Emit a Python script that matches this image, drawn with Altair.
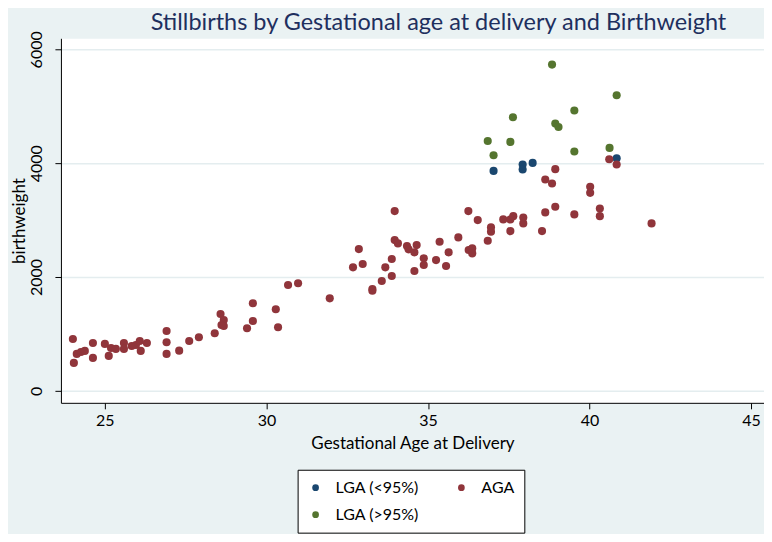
import altair as alt
import pandas as pd

groups = ["LGA (<95%)", "LGA (>95%)", "AGA"]
colors = ["#1A476F", "#55752F", "#90353B"]

ga_lga_lt = [37.03, 37.93, 37.93, 38.24, 40.84]
bw_lga_lt = [3865, 3977, 3889, 4005, 4088]

ga_aga = [24.01, 24.04, 24.13, 24.26, 24.38, 24.63, 24.63, 25.0, 25.12, 25.19,
          25.34, 25.59, 25.59, 25.83, 25.96, 26.08, 26.11, 26.30, 26.91, 26.91,
          26.91, 27.30, 27.61, 27.91, 28.40, 28.58, 28.68, 28.61, 28.68, 29.40,
          29.58, 29.58, 30.29, 30.36, 30.67, 30.98, 31.96, 32.68, 32.86, 32.98,
          33.28, 33.28, 33.57, 33.68, 33.88, 33.88, 33.97, 33.97, 34.07, 34.35,
          34.40, 34.58, 34.65, 34.58, 34.87, 34.87, 35.25, 35.36, 35.56, 35.64,
          35.94, 36.25, 36.54, 36.26, 36.37, 36.37, 36.85, 36.95, 36.95, 37.33,
          37.55, 37.64, 37.55, 37.95, 37.95, 38.53, 38.63, 38.94, 39.53, 40.32,
          40.32, 38.63, 38.84, 38.94, 40.02, 40.02, 40.61, 40.84, 41.92]
bw_aga = [912, 491, 649, 684, 702, 842, 579, 825, 614, 754,
          737, 842, 737, 789, 807, 877, 702, 842, 1053, 854,
          649, 707, 877, 942, 1012, 1351, 1246, 1158, 1140, 1100,
          1228, 1539, 1433, 1118, 1860, 1890, 1626, 2170, 2491, 2228,
          1790, 1760, 1930, 2170, 2018, 2316, 3158, 2649, 2591, 2544,
          2486, 2433, 2561, 2105, 2328, 2211, 2298, 2619, 2193, 2433,
          2696, 3158, 3000, 2474, 2503, 2416, 2637, 2872, 2795, 3012,
          3012, 3070, 2807, 3047, 2942, 2807, 3135, 3234, 3100, 3205,
          3070, 3714, 3644, 3895, 3585, 3479, 4070, 3977, 2942]

ga_lga_gt = [38.84, 40.84, 39.53, 37.63, 38.94, 39.04, 36.85, 37.55, 37.03, 39.53, 40.62]
bw_lga_gt = [5732, 5193, 4925, 4807, 4696, 4637, 4391, 4374, 4140, 4205, 4269]

x_ticks = [25, 30, 35, 40, 45]
y_ticks = [0, 2000, 4000, 6000]

rows = []
series = [("LGA (<95%)", ga_lga_lt, bw_lga_lt),
          ("AGA", ga_aga, bw_aga),
          ("LGA (>95%)", ga_lga_gt, bw_lga_gt)]
for i, (name, gas, bws) in enumerate(series):
    for g, b in zip(gas, bws):
        rows.append({"ga": g, "bw": b, "group": name, "ord": i})
df = pd.DataFrame(rows)

FONT = "Lato"

chart = alt.Chart(df).mark_circle(size=66, opacity=1).encode(
    x=alt.X("ga:Q", scale=alt.Scale(domain=[23.64, 45.4], nice=False, zero=False),
            axis=alt.Axis(values=x_ticks, title="Gestational Age at Delivery", grid=False,
                          tickSize=6, labelPadding=4, titlePadding=7)),
    y=alt.Y("bw:Q", scale=alt.Scale(domain=[-210, 6194], nice=False, zero=False),
            axis=alt.Axis(values=y_ticks, format="d", title="birthweight", grid=True,
                          gridColor="#E4EDEF", gridWidth=1.5, tickSize=6,
                          labelAngle=270, labelAlign="center", labelBaseline="bottom",
                          labelPadding=10, titlePadding=0)),
    color=alt.Color("group:N", scale=alt.Scale(domain=groups, range=colors),
                    legend=alt.Legend(title=None, orient="none", legendX=237, legendY=432,
                                      columns=2, columnPadding=34, rowPadding=11,
                                      strokeColor="black", fillColor="white", padding=10,
                                      symbolType="circle", symbolSize=45, symbolStrokeWidth=0,
                                      labelFontSize=16, labelColor="black", labelFont=FONT,
                                      labelOffset=12)),
    order=alt.Order("ord:Q"),
).properties(
    width=704, height=365,
    title=alt.TitleParams("Stillbirths by Gestational age at delivery and Birthweight",
                          fontSize=23.5, font=FONT, fontWeight="normal", color="#1E2F5E",
                          anchor="middle", offset=5, dy=9, dx=26),
    autosize=alt.AutoSizeParams(type="none"),
    padding={"left": 53, "top": 30, "right": 0, "bottom": 131},
).configure(
    background="#EAF2F3",
).configure_view(
    fill="white", stroke="transparent",
).configure_axis(
    domainColor="black", tickColor="black", labelColor="black", titleColor="black",
    labelFont=FONT, titleFont=FONT, labelFontSize=16, titleFontSize=17,
    titleFontWeight="normal", domainWidth=1, tickWidth=1,
)

chart.save("out.html", embed_options={"renderer": "svg", "actions": False})
